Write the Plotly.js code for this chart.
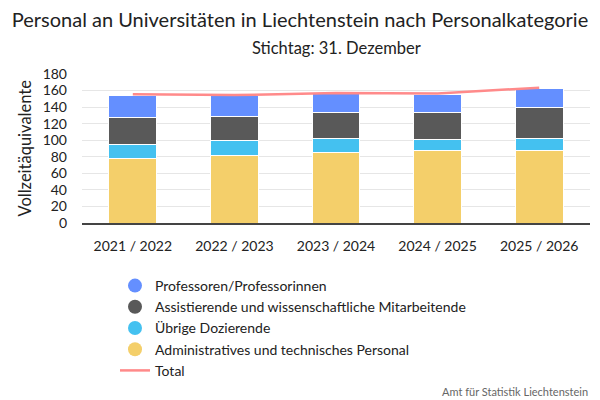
<!DOCTYPE html>
<html>
<head>
<meta charset="utf-8">
<script src="https://cdn.plot.ly/plotly-3.0.1.min.js"></script>
<style>html,body{margin:0;padding:0;background:#fff;}#chart{width:600px;height:400px;}</style>
</head>
<body>
<div id="chart"></div>
<script>
const categories = ["2021 / 2022", "2022 / 2023", "2023 / 2024", "2024 / 2025", "2025 / 2026"];
const admin = [78, 82, 85.5, 87, 88];
const uebrige = [17, 18, 16, 14, 14.5];
const assist = [32, 29, 32.5, 33, 36.5];
const prof = [27, 24.5, 22, 21, 23];
const total = [155.5, 154.5, 157, 156.5, 163.5];
const yTicks = [0, 20, 40, 60, 80, 100, 120, 140, 160, 180];

const names = {
  prof: "Professoren/Professorinnen",
  assist: "Assistierende und wissenschaftliche Mitarbeitende",
  uebrige: "Übrige Dozierende",
  admin: "Administratives und technisches Personal",
  total: "Total"
};
const colors = {
  prof: "#648fff",
  assist: "#595959",
  uebrige: "#44c1f0",
  admin: "#f4cf6a",
  total: "#ff8a8a"
};
const FONT = "Lato, 'Noto Sans', sans-serif";

function barTrace(key, vals) {
  return {
    type: "bar", x: categories, y: vals, name: names[key],
    marker: {color: colors[key], line: {color: "#ffffff", width: 1}},
    showlegend: false, hoverinfo: "y+name"
  };
}
function legendDot(key) {
  return {
    type: "scatter", mode: "markers", x: [null], y: [null], name: names[key],
    marker: {color: colors[key], size: 14, symbol: "circle"}, showlegend: true
  };
}

const data = [
  barTrace("admin", admin),
  barTrace("uebrige", uebrige),
  barTrace("assist", assist),
  barTrace("prof", prof),
  {type: "scatter", mode: "lines", x: categories, y: total, name: names.total,
   line: {color: colors.total, width: 2.5}, showlegend: false},
  legendDot("prof"),
  legendDot("assist"),
  legendDot("uebrige"),
  legendDot("admin"),
  {type: "scatter", mode: "lines", x: [null], y: [null], name: names.total,
   line: {color: colors.total, width: 2.5}, showlegend: true}
];

const layout = {
  width: 600, height: 400,
  margin: {l: 82, r: 10, t: 74, b: 177, autoexpand: false},
  paper_bgcolor: "#fff", plot_bgcolor: "#fff",
  font: {family: FONT, color: "#222", size: 14},
  barmode: "stack",
  bargap: 0.53,
  title: {
    text: "Personal an Universitäten in Liechtenstein nach Personalkategorie",
    font: {family: FONT, size: 20, color: "#222"},
    x: 0.5, xanchor: "center", xref: "container",
    y: 1 - 20/400, yanchor: "middle", yref: "container"
  },
  xaxis: {
    type: "category", showgrid: false, showline: true, linecolor: "#444", linewidth: 1.5,
    tickfont: {size: 14, color: "#222"}, ticks: "", ticklabelstandoff: 9, tickangle: 0,
    fixedrange: true
  },
  yaxis: {
    range: [0, 180], tickvals: yTicks, showgrid: true, gridcolor: "#e6e6e6", gridwidth: 1,
    zeroline: false, showline: false, ticks: "", ticklabelstandoff: 14,
    tickfont: {size: 14, color: "#222"},
    fixedrange: true
  },
  legend: {
    xref: "container", yref: "container",
    x: 115/600, y: 1 - 270/400, xanchor: "left", yanchor: "top",
    orientation: "v", traceorder: "normal",
    font: {size: 14, color: "#222"}, itemwidth: 30, tracegroupgap: 0
  },
  annotations: [
    {text: "Stichtag: 31. Dezember", xref: "paper", yref: "paper", x: 0.5,
     y: 1, yshift: 26, showarrow: false, xanchor: "center", yanchor: "middle",
     font: {family: FONT, size: 16.5, color: "#222"}},
    {text: "Vollzeitäquivalente", xref: "paper", yref: "paper", x: 0, xshift: -58,
     y: 0.5, showarrow: false, xanchor: "center", yanchor: "middle", textangle: -90,
     font: {family: FONT, size: 16.5, color: "#222"}},
    {text: "Amt für Statistik Liechtenstein", xref: "paper", yref: "paper", x: 1,
     y: 0, yshift: -168, showarrow: false, xanchor: "right", yanchor: "middle",
     font: {family: FONT, size: 11, color: "#666"}}
  ]
};

Plotly.newPlot("chart", data, layout, {displayModeBar: false});
</script>
</body>
</html>
